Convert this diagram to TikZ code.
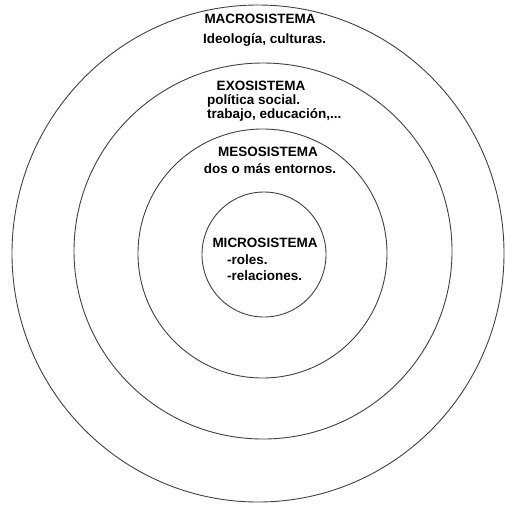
\documentclass[tikz,border=0pt]{standalone}
\usepackage{fontspec}
\setmainfont{Liberation Sans}
\usepackage{tikz}

\begin{document}
\begin{tikzpicture}[x=1pt, y=-1pt, every node/.style={font=\bfseries\fontsize{13.5}{14}\selectfont, inner sep=0pt}]
\useasboundingbox (0,0) rectangle (505,504);

% Circulos
\foreach \cx/\cy/\rx/\ry in {258/253.5/246/248.5, 263/251/189/188, 262.5/253.5/124.5/124.5, 264/254.5/62/62.5} {
    \draw[black!75, line width=0.9pt] (\cx,\cy) ellipse ({\rx} and {\ry});
}

% Macrosistema
\node[anchor=base] (macro) at (260,23) {MACROSISTEMA};
\node[anchor=base west] (macrotxt) at (203,43) {Ideología, culturas.};

% Exosistema
\node[anchor=base] (exo) at (261,90) {EXOSISTEMA};
\node[anchor=base west] (exotxta) at (207,104) {política social.};
\node[anchor=base west] (exotxtb) at (207,118) {trabajo, educación,...};

% Mesosistema
\node[anchor=base] (meso) at (268,156) {MESOSISTEMA};
\node[anchor=base] (mesotxt) at (270,173) {dos o más entornos.};

% Microsistema
\node[anchor=base] (micro) at (265,247) {MICROSISTEMA};
\node[anchor=base west] (microtxta) at (227,264) {-roles.};
\node[anchor=base west] (microtxtb) at (227,280) {-relaciones.};

\end{tikzpicture}
\end{document}
